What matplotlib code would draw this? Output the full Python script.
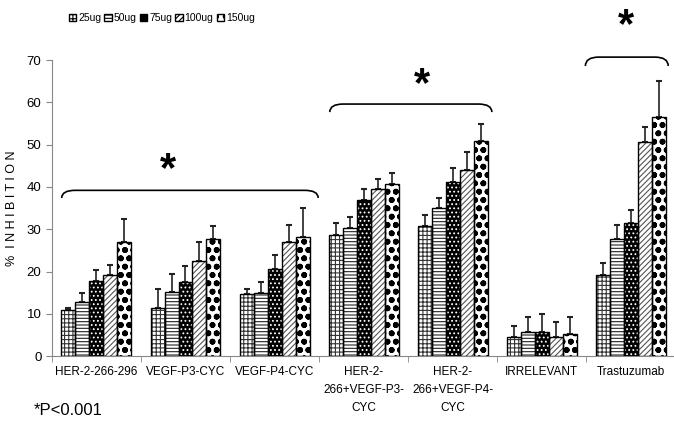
import matplotlib
matplotlib.use("Agg")
import matplotlib.pyplot as plt
from matplotlib.path import Path
from matplotlib.patches import PathPatch, Patch
import numpy as np

plt.rcParams['font.family'] = ['Liberation Sans', 'DejaVu Sans']
plt.rcParams['hatch.linewidth'] = 0.8

categories = ["HER-2-266-296", "VEGF-P3-CYC", "VEGF-P4-CYC",
              "HER-2-\n266+VEGF-P3-\nCYC", "HER-2-\n266+VEGF-P4-\nCYC",
              "IRRELEVANT", "Trastuzumab"]
doses = ["25ug", "50ug", "75ug", "100ug", "150ug"]

# mean % inhibition per dose (rows) and category (columns)
means = [
    [11.0, 11.3, 14.6, 28.6, 30.7, 4.6, 19.3],
    [12.8, 15.2, 15.0, 30.3, 35.1, 5.7, 27.6],
    [17.8, 17.6, 20.5, 37.0, 41.1, 5.7, 31.5],
    [19.3, 22.5, 27.0, 39.6, 44.1, 4.6, 50.6],
    [27.0, 27.6, 28.2, 40.6, 50.9, 5.3, 56.6],
]
errs = [
    [0.3, 4.5, 1.2, 2.9, 2.6, 2.6, 2.8],
    [2.2, 4.3, 2.6, 2.7, 2.4, 3.5, 3.3],
    [2.5, 3.8, 3.5, 2.6, 3.3, 4.2, 3.0],
    [2.2, 4.5, 4.1, 2.4, 4.2, 3.4, 3.5],
    [5.5, 3.2, 6.8, 2.7, 4.0, 4.0, 8.5],
]

hatches = ['++++', '-----', '....', '//////', 'oo']
faces = ['white', 'white', 'black', 'white', 'white']
hcols = ['#333333', '#222222', 'white', '#555555', 'black']
hlw = [0.8, 0.8, 0.8, 0.8, 1.8]

fig = plt.figure(figsize=(6.74, 4.23), dpi=100)
ax = fig.add_axes([0.077, 0.158, 0.925, 0.70])

x = np.arange(len(categories))
w = 0.157
for i in range(len(doses)):
    pos = x + (i - 2) * w
    bars = ax.bar(pos, means[i], w, color=faces[i], edgecolor=hcols[i],
                  hatch=hatches[i], linewidth=0, zorder=2)
    for b in bars:
        if hasattr(b, 'set_hatch_linewidth'):
            b.set_hatch_linewidth(hlw[i])
    ax.bar(pos, means[i], w, color='none', edgecolor='black',
           linewidth=1.0, zorder=3)
    ax.errorbar(pos, means[i], yerr=[np.zeros(len(categories)), errs[i]],
                fmt='none', ecolor='#222222', elinewidth=1.2, capsize=2.5,
                capthick=1.5, zorder=1)

ax.set_xlim(-0.5, 6.5)
ax.set_ylim(0, 70)
ax.set_yticks(range(0, 71, 10))
ax.set_xticks(x)
ax.set_xticklabels(categories, fontsize=8.5, linespacing=1.7)
ax.set_xticks(np.arange(-0.5, 7, 1), minor=True)
ax.tick_params(axis='x', which='major', length=0, pad=7)
ax.tick_params(axis='x', which='minor', length=4, color='#888888')
ax.tick_params(axis='y', labelsize=9.5, length=4, color='#888888')
ax.spines['top'].set_visible(False)
ax.spines['right'].set_visible(False)
ax.spines['left'].set_color('#888888')
ax.spines['bottom'].set_color('#888888')
ax.set_ylabel("%  I N H I B I T I O N", fontsize=9, labelpad=6)


def bracket(x0, x1, ytop, yend):
    r = 0.15
    verts = [(x0, yend), (x0, ytop), (x0 + r, ytop),
             (x1 - r, ytop), (x1, ytop), (x1, yend)]
    codes = [Path.MOVETO, Path.CURVE3, Path.CURVE3,
             Path.LINETO, Path.CURVE3, Path.CURVE3]
    ax.add_patch(PathPatch(Path(verts, codes), fill=False, lw=1.2,
                           color='black', clip_on=False))


bracket(-0.39, 2.49, 39.2, 37.4)
bracket(2.62, 4.44, 59.6, 57.7)
bracket(5.49, 6.42, 70.7, 68.6)
ax.text(0.80, 44, "*", fontsize=30, fontweight='bold', ha='center', va='center')
ax.text(3.66, 64, "*", fontsize=30, fontweight='bold', ha='center', va='center')
ax.text(5.95, 78, "*", fontsize=30, fontweight='bold', ha='center', va='center',
        clip_on=False)

handles = [Patch(facecolor=faces[i], edgecolor='black', hatch=hatches[i])
           for i in range(len(doses))]
fig.legend(handles, doses, loc='center', bbox_to_anchor=(0.24, 0.957), ncol=5,
           frameon=False, fontsize=7.5, handlelength=0.7, handleheight=0.7,
           handletextpad=0.2, columnspacing=0.3)

fig.text(0.05, 0.018, "*P<0.001", fontsize=12)

fig.savefig("out.png", dpi=100)
